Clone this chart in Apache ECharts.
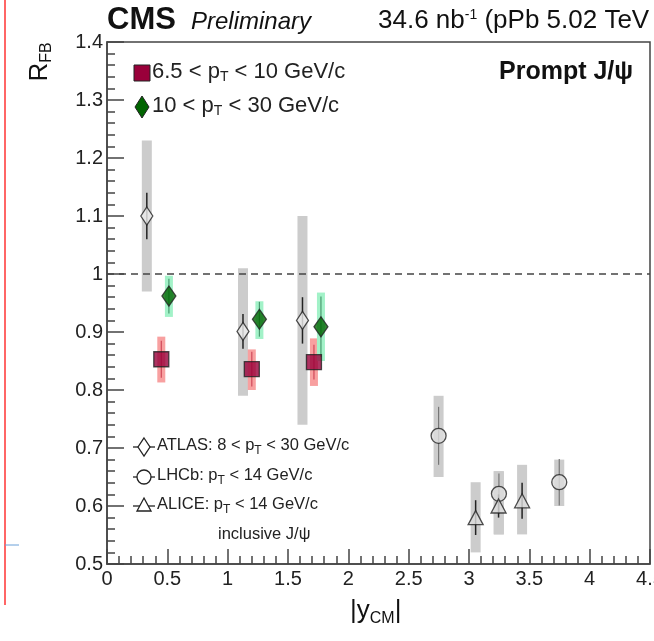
<!DOCTYPE html>
<html>
<head>
<meta charset="utf-8">
<script src="https://cdn.jsdelivr.net/npm/echarts@6/dist/echarts.min.js"></script>
<style>
  html, body { margin: 0; padding: 0; background: #fff; }
  #chart-panel { width: 654px; height: 641px; }
</style>
</head>
<body>
<div id="chart-panel"></div>
<script>
// CMS 6.5 < pT < 10
var lowPtX = [0.45, 1.20, 1.715];
var lowPtY = [0.853, 0.836, 0.848];
var lowPtStat = [0.032, 0.03, 0.03];
var lowPtSystLo = [0.813, 0.800, 0.807];
var lowPtSystHi = [0.892, 0.870, 0.889];

// CMS 10 < pT < 30
var highPtX = [0.513, 1.263, 1.773];
var highPtY = [0.962, 0.922, 0.909];
var highPtStat = [0.03, 0.03, 0.052];
var highPtSystLo = [0.926, 0.888, 0.850];
var highPtSystHi = [0.997, 0.953, 0.968];

// ATLAS 8 < pT < 30
var atlasX = [0.33, 1.127, 1.62];
var atlasY = [1.10, 0.901, 0.92];
var atlasStat = [0.04, 0.03, 0.04];
var atlasSystLo = [0.97, 0.79, 0.74];
var atlasSystHi = [1.23, 1.01, 1.10];

// LHCb pT < 14
var lhcbX = [2.748, 3.248, 3.748];
var lhcbY = [0.721, 0.621, 0.641];
var lhcbStat = [0.05, 0.035, 0.04];
var lhcbSystLo = [0.65, 0.551, 0.60];
var lhcbSystHi = [0.79, 0.66, 0.68];

// ALICE pT < 14 (inclusive)
var aliceX = [3.055, 3.245, 3.44];
var aliceY = [0.58, 0.60, 0.609];
var aliceStat = [0.03, 0.02, 0.031];
var aliceSystLo = [0.52, 0.551, 0.551];
var aliceSystHi = [0.641, 0.66, 0.671];

var font = 'Liberation Sans, Arial, sans-serif';

function boxData(xs, lo, hi) {
    return xs.map(function (x, i) { return [x, lo[i], hi[i]]; });
}
function statData(xs, ys, err) {
    return xs.map(function (x, i) { return [x, ys[i] - err[i], ys[i] + err[i]]; });
}
function points(xs, ys) {
    return xs.map(function (x, i) { return [x, ys[i]]; });
}

function boxRender(w, color) {
    return function (params, api) {
        var x = api.value(0);
        var top = api.coord([x, api.value(2)]);
        var bot = api.coord([x, api.value(1)]);
        return {
            type: 'rect',
            shape: { x: top[0] - w / 2, y: top[1], width: w, height: bot[1] - top[1] },
            style: { fill: color }
        };
    };
}
function lineRender(color, lw) {
    return function (params, api) {
        var x = api.value(0);
        var top = api.coord([x, api.value(2)]);
        var bot = api.coord([x, api.value(1)]);
        return {
            type: 'line',
            shape: { x1: top[0], y1: top[1], x2: bot[0], y2: bot[1] },
            style: { stroke: color, lineWidth: lw }
        };
    };
}
function customSeries(data, render, z) {
    return { type: 'custom', data: data, renderItem: render, encode: { x: 0, y: [1, 2] }, z: z, silent: true };
}

var subStyle = { fontSize: 14, fontFamily: font, fill: '#222', padding: [11, 0, 0, 0], verticalAlign: 'bottom' };
var subSmall = { fontSize: 12, fontFamily: font, fill: '#222', padding: [10, 0, 0, 0], verticalAlign: 'bottom' };
var tickLine = { color: '#444', width: 1.5 };

var myChart = echarts.init(document.getElementById('chart-panel'));
var option = {
    animation: false,
    backgroundColor: '#fff',
    grid: {
        left: 107, right: 4, top: 42, bottom: 77, outerBoundsMode: 'none', containLabel: false,
        show: true, borderColor: '#444', borderWidth: 1.5, backgroundColor: 'transparent'
    },
    xAxis: {
        type: 'value', min: 0, max: 4.5, interval: 0.5,
        axisLine: { show: true, lineStyle: tickLine },
        axisTick: { show: true, inside: true, length: 15, lineStyle: tickLine },
        minorTick: { show: true, splitNumber: 5, length: 8, lineStyle: tickLine },
        axisLabel: { fontSize: 20, color: '#222', fontFamily: font, margin: 5, showMaxLabel: true },
        splitLine: { show: false }
    },
    yAxis: {
        type: 'value', min: 0.5, max: 1.4, interval: 0.1,
        axisLine: { show: true, lineStyle: tickLine },
        axisTick: { show: true, inside: true, length: 17, lineStyle: tickLine },
        minorTick: { show: true, splitNumber: 5, length: 8, lineStyle: tickLine },
        axisLabel: {
            fontSize: 20, color: '#222', fontFamily: font, margin: 4,
            formatter: function (v) { return String(Math.round(v * 10) / 10); }
        },
        splitLine: { show: false }
    },
    series: [
        customSeries(boxData(atlasX, atlasSystLo, atlasSystHi), boxRender(10, '#cccccc'), 1),
        customSeries(boxData(lhcbX, lhcbSystLo, lhcbSystHi), boxRender(10, '#cccccc'), 1),
        customSeries(boxData(aliceX, aliceSystLo, aliceSystHi), boxRender(10, '#cccccc'), 1),
        customSeries(boxData(lowPtX, lowPtSystLo, lowPtSystHi), boxRender(8, '#f8a0a0'), 1),
        customSeries(boxData(highPtX, highPtSystLo, highPtSystHi), boxRender(8, '#a2f2c8'), 1),
        customSeries(statData(atlasX, atlasY, atlasStat), lineRender('#222', 1.5), 2),
        customSeries(statData(lhcbX, lhcbY, lhcbStat), lineRender('#777', 1.2), 2),
        customSeries(statData(aliceX, aliceY, aliceStat), lineRender('#222', 1.5), 2),
        customSeries(statData(lowPtX, lowPtY, lowPtStat), lineRender('#d04a5a', 1.2), 2),
        customSeries(statData(highPtX, highPtY, highPtStat), lineRender('#4a9a70', 1.2), 2),
        {
            name: 'ATLAS', type: 'scatter', data: points(atlasX, atlasY), symbol: 'diamond', symbolSize: [12, 18], z: 3,
            itemStyle: { color: '#eeeeee', borderColor: '#222', borderWidth: 1.3 },
            markLine: {
                silent: true, symbol: 'none', label: { show: false },
                lineStyle: { type: [7, 5], color: '#444', width: 1.5 },
                data: [{ yAxis: 1 }]
            }
        },
        {
            name: 'LHCb', type: 'scatter', data: points(lhcbX, lhcbY), symbol: 'circle', symbolSize: 15, z: 3,
            itemStyle: { color: '#dddddd', borderColor: '#222', borderWidth: 1.3 }
        },
        {
            name: 'ALICE', type: 'scatter', data: points(aliceX, aliceY), symbol: 'triangle', symbolSize: [15, 14], z: 4,
            itemStyle: { color: '#dddddd', borderColor: '#222', borderWidth: 1.3 }
        },
        {
            name: '6.5 < pT < 10 GeV/c', type: 'scatter', data: points(lowPtX, lowPtY), symbol: 'rect', symbolSize: 15, z: 3,
            itemStyle: { color: '#99003a', borderColor: '#222', borderWidth: 1.3 }
        },
        {
            name: '10 < pT < 30 GeV/c', type: 'scatter', data: points(highPtX, highPtY), symbol: 'diamond', symbolSize: [14, 20], z: 3,
            itemStyle: { color: '#006400', borderColor: '#222', borderWidth: 1.3 }
        }
    ],
    graphic: [
        // page edge marks seen in the original capture
        { type: 'line', shape: { x1: 5, y1: 0, x2: 5, y2: 605 }, style: { stroke: '#f66', lineWidth: 2 } },
        { type: 'line', shape: { x1: 5, y1: 545, x2: 19, y2: 545 }, style: { stroke: '#6aa0d8', lineWidth: 1 } },
        // header
        { type: 'text', left: 107, top: 5, style: { text: 'CMS', font: 'bold 31px ' + font, fill: '#111' } },
        { type: 'text', left: 191, top: 10, style: { text: 'Preliminary', font: 'italic 24px ' + font, fill: '#111' } },
        {
            type: 'text', left: 378, top: 8,
            style: {
                text: '34.6 nb{sup|-1} (pPb 5.02 TeV', font: '26px ' + font, fill: '#111',
                rich: { sup: { fontSize: 14, fontFamily: font, fill: '#111', padding: [0, 0, 12, 0], verticalAlign: 'top' } }
            }
        },
        { type: 'text', left: 499, top: 60, style: { text: 'Prompt J/\u03c8', font: 'bold 25px ' + font, fill: '#111' } },
        // top legend
        { type: 'rect', shape: { x: 134, y: 65, width: 16, height: 16 }, style: { fill: '#99003a', stroke: '#222', lineWidth: 1 } },
        { type: 'text', left: 152, top: 61, style: { text: '6.5 < p{sub|T} < 10 GeV/c', font: '22px ' + font, fill: '#222', rich: { sub: subStyle } } },
        { type: 'polygon', shape: { points: [[142, 96], [149, 107], [142, 118], [135, 107]] }, style: { fill: '#006400', stroke: '#222', lineWidth: 1 } },
        { type: 'text', left: 152, top: 95, style: { text: '10 < p{sub|T} < 30 GeV/c', font: '22px ' + font, fill: '#222', rich: { sub: subStyle } } },
        // bottom legend
        { type: 'line', shape: { x1: 133, y1: 447, x2: 155, y2: 447 }, style: { stroke: '#222', lineWidth: 1.3 } },
        { type: 'polygon', shape: { points: [[144, 438], [150, 447], [144, 456], [138, 447]] }, style: { fill: '#fff', stroke: '#222', lineWidth: 1.3 } },
        { type: 'text', left: 157, top: 437, style: { text: 'ATLAS: 8 < p{sub|T} < 30 GeV/c', font: '16.5px ' + font, fill: '#222', rich: { sub: subSmall } } },
        { type: 'line', shape: { x1: 133, y1: 477, x2: 155, y2: 477 }, style: { stroke: '#222', lineWidth: 1.3 } },
        { type: 'circle', shape: { cx: 144, cy: 477, r: 7 }, style: { fill: '#fff', stroke: '#222', lineWidth: 1.3 } },
        { type: 'text', left: 157, top: 467, style: { text: 'LHCb: p{sub|T} < 14 GeV/c', font: '16.5px ' + font, fill: '#222', rich: { sub: subSmall } } },
        { type: 'line', shape: { x1: 133, y1: 506, x2: 155, y2: 506 }, style: { stroke: '#222', lineWidth: 1.3 } },
        { type: 'polygon', shape: { points: [[144, 498], [151, 511], [137, 511]] }, style: { fill: '#fff', stroke: '#222', lineWidth: 1.3 } },
        { type: 'text', left: 157, top: 496, style: { text: 'ALICE: p{sub|T} < 14 GeV/c', font: '16.5px ' + font, fill: '#222', rich: { sub: subSmall } } },
        { type: 'text', left: 218, top: 526, style: { text: 'inclusive J/\u03c8', font: '16.5px ' + font, fill: '#222' } },
        // axis titles
        {
            type: 'text', x: 40, y: 62, rotation: Math.PI / 2,
            style: {
                text: 'R{s|FB}', font: '26px ' + font, fill: '#111', align: 'center', verticalAlign: 'middle',
                rich: { s: { fontSize: 16, fontFamily: font, fill: '#111', padding: [14, 0, 0, 0], verticalAlign: 'bottom' } }
            }
        },
        {
            type: 'text', left: 350, top: 598,
            style: {
                text: '|y{s|CM}|', font: '26px ' + font, fill: '#111',
                rich: { s: { fontSize: 16, fontFamily: font, fill: '#111', padding: [16, 0, 0, 0], verticalAlign: 'bottom' } }
            }
        }
    ]
};
myChart.setOption(option);
</script>
</body>
</html>
